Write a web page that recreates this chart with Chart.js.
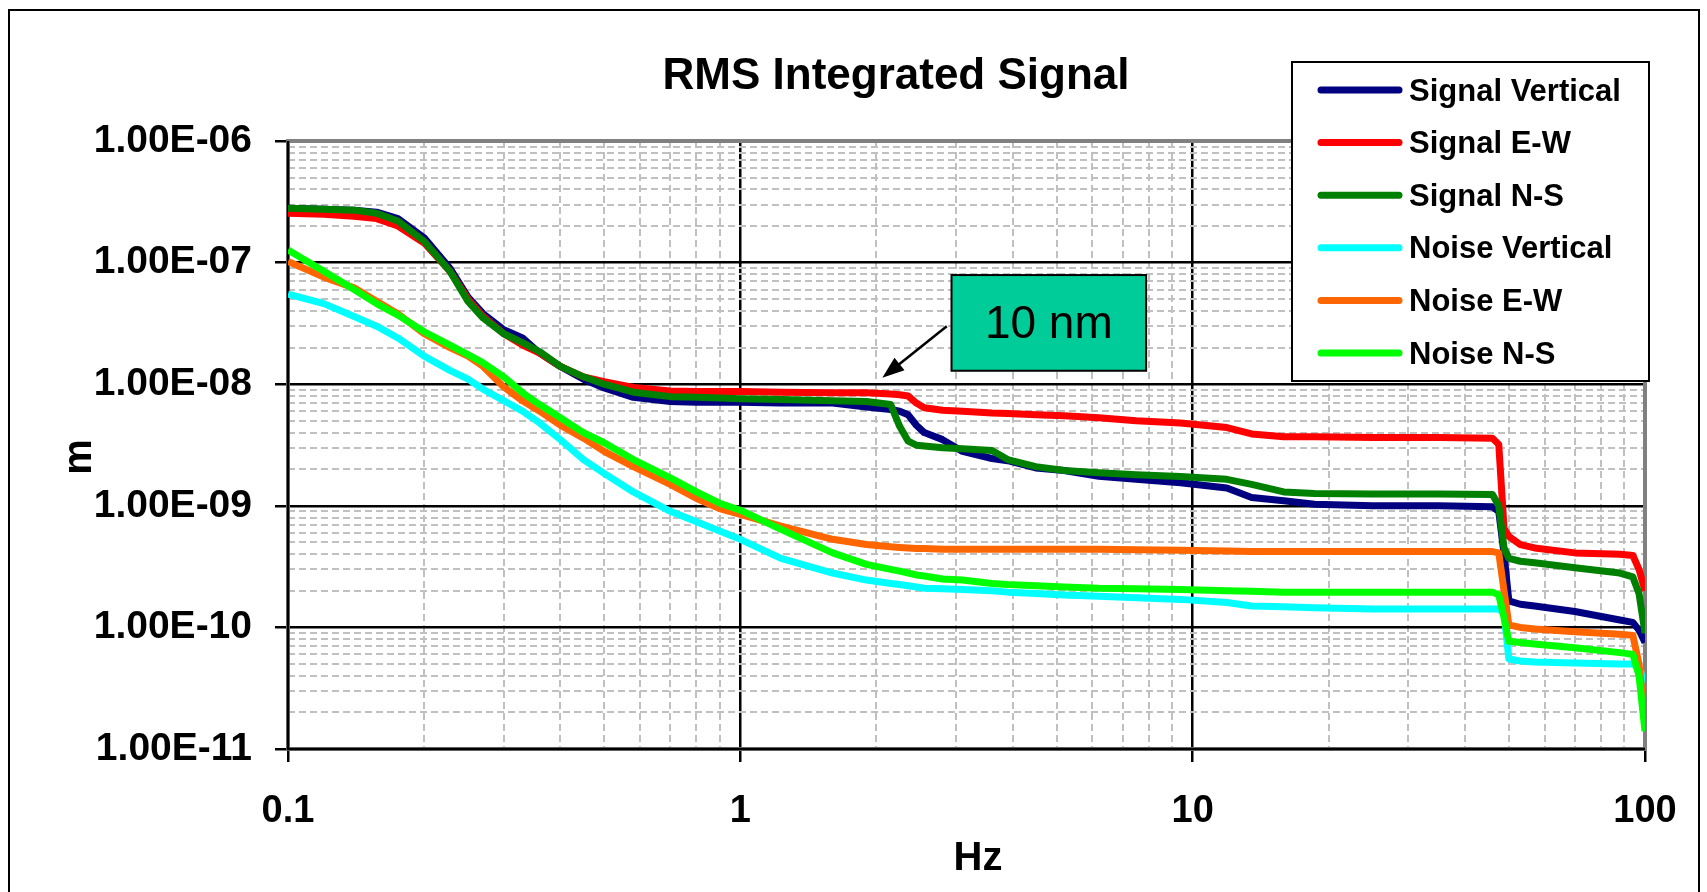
<!DOCTYPE html>
<html>
<head>
<meta charset="utf-8">
<title>RMS Integrated Signal</title>
<script src="https://cdn.jsdelivr.net/npm/chart.js@4.4.1/dist/chart.umd.min.js"></script>
<style>
  html, body { margin: 0; padding: 0; background: #fff; }
  canvas { display: block; }
</style>
</head>
<body>
<canvas id="chart" width="1707" height="892"></canvas>
<script>
// values: frequency in Hz, integrated RMS in m
const freqHz = [0.1, 0.12, 0.14, 0.157, 0.175, 0.2, 0.228, 0.25, 0.27, 0.3,
    0.33, 0.36, 0.4, 0.45, 0.5, 0.58, 0.7, 0.8, 0.9, 1,
    1.23, 1.6, 1.9, 2.15, 2.25, 2.35, 2.45, 2.55, 2.8, 3.1,
    3.6, 3.9, 4.5, 5.2, 6.2, 7.5, 9.4, 11.9, 13.5, 15.9,
    18.6, 25, 35, 46, 47.5, 48.8, 50, 53, 57, 70,
    88, 94, 97, 100];

const signalVertical = [2.8e-7, 2.75e-7, 2.7e-7, 2.6e-7, 2.3e-7, 1.6e-7, 9.0e-8, 5.2e-8, 3.8e-8, 2.8e-8,
    2.4e-8, 1.8e-8, 1.4e-8, 1.1e-8, 9.3e-9, 7.8e-9, 7.2e-9, 7.1e-9, 7.1e-9, 7.1e-9,
    7.0e-9, 7.0e-9, 6.5e-9, 6.2e-9, 6.0e-9, 5.6e-9, 4.6e-9, 4.0e-9, 3.5e-9, 2.8e-9,
    2.45e-9, 2.35e-9, 2.05e-9, 1.95e-9, 1.75e-9, 1.65e-9, 1.55e-9, 1.4e-9, 1.17e-9, 1.1e-9,
    1.03e-9, 1.0e-9, 1.0e-9, 9.8e-10, 9.0e-10, 4.0e-10, 1.65e-10, 1.55e-10, 1.5e-10, 1.35e-10,
    1.15e-10, 1.1e-10, 9.5e-11, 7.5e-11];

const signalEW = [2.55e-7, 2.5e-7, 2.4e-7, 2.3e-7, 2.0e-7, 1.45e-7, 8.5e-8, 5.0e-8, 3.6e-8, 2.6e-8,
    2.1e-8, 1.8e-8, 1.4e-8, 1.15e-8, 1.05e-8, 9.4e-9, 8.8e-9, 8.7e-9, 8.7e-9, 8.7e-9,
    8.6e-9, 8.5e-9, 8.5e-9, 8.3e-9, 8.2e-9, 8.0e-9, 7.0e-9, 6.4e-9, 6.1e-9, 6.0e-9,
    5.8e-9, 5.75e-9, 5.6e-9, 5.5e-9, 5.3e-9, 5.0e-9, 4.8e-9, 4.4e-9, 3.9e-9, 3.7e-9,
    3.7e-9, 3.65e-9, 3.65e-9, 3.6e-9, 3.2e-9, 6.5e-10, 5.6e-10, 4.8e-10, 4.5e-10, 4.1e-10,
    4.0e-10, 3.9e-10, 3.0e-10, 2.0e-10];

const signalNS = [2.8e-7, 2.75e-7, 2.7e-7, 2.55e-7, 2.2e-7, 1.5e-7, 8.5e-8, 4.8e-8, 3.5e-8, 2.6e-8,
    2.2e-8, 1.85e-8, 1.4e-8, 1.15e-8, 1.0e-8, 8.6e-9, 7.9e-9, 7.8e-9, 7.7e-9, 7.6e-9,
    7.5e-9, 7.3e-9, 7.2e-9, 6.8e-9, 4.5e-9, 3.4e-9, 3.15e-9, 3.1e-9, 3.0e-9, 2.95e-9,
    2.85e-9, 2.4e-9, 2.1e-9, 1.95e-9, 1.87e-9, 1.8e-9, 1.74e-9, 1.65e-9, 1.5e-9, 1.3e-9,
    1.26e-9, 1.25e-9, 1.25e-9, 1.24e-9, 1.0e-9, 4.5e-10, 3.7e-10, 3.5e-10, 3.4e-10, 3.1e-10,
    2.8e-10, 2.6e-10, 1.9e-10, 9.0e-11];

const noiseVertical = [5.5e-8, 4.6e-8, 3.6e-8, 3.0e-8, 2.4e-8, 1.7e-8, 1.3e-8, 1.1e-8, 9.1e-9, 7.3e-9,
    6.0e-9, 4.8e-9, 3.5e-9, 2.4e-9, 1.85e-9, 1.3e-9, 9.0e-10, 7.4e-10, 6.2e-10, 5.3e-10,
    3.7e-10, 2.8e-10, 2.45e-10, 2.3e-10, 2.25e-10, 2.2e-10, 2.15e-10, 2.1e-10, 2.08e-10, 2.05e-10,
    2.0e-10, 1.95e-10, 1.9e-10, 1.85e-10, 1.8e-10, 1.75e-10, 1.7e-10, 1.6e-10, 1.5e-10, 1.48e-10,
    1.45e-10, 1.42e-10, 1.42e-10, 1.42e-10, 1.42e-10, 1.3e-10, 5.5e-11, 5.3e-11, 5.2e-11, 5.1e-11,
    5.0e-11, 5.0e-11, 4.6e-11, 3.5e-11];

const noiseEW = [1.02e-7, 7.6e-8, 6.2e-8, 4.8e-8, 3.8e-8, 2.6e-8, 2.0e-8, 1.7e-8, 1.4e-8, 9.5e-9,
    7.3e-9, 6.0e-9, 4.6e-9, 3.6e-9, 2.8e-9, 2.1e-9, 1.5e-9, 1.15e-9, 9.5e-10, 8.5e-10,
    6.8e-10, 5.3e-10, 4.8e-10, 4.6e-10, 4.55e-10, 4.5e-10, 4.45e-10, 4.45e-10, 4.4e-10, 4.4e-10,
    4.4e-10, 4.4e-10, 4.4e-10, 4.4e-10, 4.4e-10, 4.35e-10, 4.3e-10, 4.25e-10, 4.2e-10, 4.2e-10,
    4.2e-10, 4.2e-10, 4.2e-10, 4.2e-10, 4.1e-10, 2.0e-10, 1.05e-10, 1.0e-10, 9.7e-11, 9.2e-11,
    8.8e-11, 8.6e-11, 5.0e-11, 1.6e-11];

const noiseNS = [1.27e-7, 8.5e-8, 6.0e-8, 4.6e-8, 3.7e-8, 2.7e-8, 2.1e-8, 1.75e-8, 1.5e-8, 1.15e-8,
    8.5e-9, 6.8e-9, 5.3e-9, 4.0e-9, 3.3e-9, 2.4e-9, 1.7e-9, 1.3e-9, 1.05e-9, 9.2e-10,
    6.4e-10, 4.1e-10, 3.3e-10, 3.0e-10, 2.9e-10, 2.8e-10, 2.7e-10, 2.65e-10, 2.5e-10, 2.45e-10,
    2.3e-10, 2.25e-10, 2.2e-10, 2.15e-10, 2.1e-10, 2.08e-10, 2.05e-10, 2.0e-10, 1.98e-10, 1.95e-10,
    1.95e-10, 1.95e-10, 1.95e-10, 1.95e-10, 1.85e-10, 1.2e-10, 7.7e-11, 7.5e-11, 7.3e-11, 6.8e-11,
    6.2e-11, 6.0e-11, 4.0e-11, 1.4e-11];

const seriesNames = ['Signal Vertical', 'Signal E-W', 'Signal N-S', 'Noise Vertical', 'Noise E-W', 'Noise N-S'];
const seriesValues = [signalVertical, signalEW, signalNS, noiseVertical, noiseEW, noiseNS];
const seriesColors = ['#000080', '#ff0000', '#008000', '#00ffff', '#ff6600', '#00ff00'];

const xDecades = [0.1, 1, 10, 100];
const xTickLabels = ['0.1', '1', '10', '100'];
const yDecades = [1e-11, 1e-10, 1e-9, 1e-8, 1e-7, 1e-6];
const yTickLabels = ['1.00E-11', '1.00E-10', '1.00E-09', '1.00E-08', '1.00E-07', '1.00E-06'];

const chartTitle = 'RMS Integrated Signal';
const xTitle = 'Hz';
const yTitle = 'm';
const noteText = '10 nm';
// callout box corners and arrow, in axis units
const noteBox = [[2.93, 7.9e-8], [7.89, 1.29e-8]];
const noteArrow = [[2.86, 3.0e-8], [2.06, 1.13e-8]];

const FONT = '"Liberation Sans", Arial, Helvetica, sans-serif';

function decadeIndex(decades, v) {
    return decades.findIndex(d => Math.abs(Math.log10(v) - Math.log10(d)) < 1e-6);
}

// 1..9 in every decade, like Excel's minor grid
function logTicks(decades) {
    const t = [];
    for (let i = 0; i < decades.length - 1; i++) {
        for (let m = 1; m < 10; m++) t.push({ value: m * decades[i] });
    }
    t.push({ value: decades[decades.length - 1] });
    return t;
}

function axisStyle(decades) {
    const major = c => c.tick && decadeIndex(decades, c.tick.value) >= 0;
    return {
        grid: {
            color: c => major(c) ? '#000' : '#c0c0c0',
            lineWidth: c => major(c) ? 2.5 : 2,
            tickLength: 13,
            tickWidth: 2.5,
            tickColor: c => major(c) ? '#000' : 'rgba(0,0,0,0)'
        },
        border: {
            display: false,
            dash: c => major(c) ? [] : [7, 4]
        }
    };
}

const decor = {
    id: 'decor',
    beforeDraw(chart) {
        const ctx = chart.ctx;
        ctx.save();
        ctx.fillStyle = '#fff';
        ctx.fillRect(0, 0, chart.width, chart.height);
        ctx.strokeStyle = '#000';
        ctx.lineWidth = 2;
        ctx.strokeRect(9, 10, 1690, 900);
        ctx.restore();
    },
    beforeDatasetsDraw(chart) {
        const { ctx, chartArea: a } = chart;
        ctx.save();
        ctx.strokeStyle = '#808080';
        ctx.lineWidth = 4;
        ctx.strokeRect(a.left, a.top, a.right - a.left, a.bottom - a.top);
        ctx.strokeStyle = '#000';
        ctx.lineWidth = 2.5;
        ctx.beginPath();
        ctx.moveTo(a.left, a.top);
        ctx.lineTo(a.left, a.bottom);
        ctx.lineTo(a.right, a.bottom);
        ctx.stroke();
        ctx.restore();
    },
    afterDraw(chart) {
        const { ctx, scales: { x, y } } = chart;
        ctx.save();
        ctx.fillStyle = '#000';
        ctx.textAlign = 'center';
        ctx.textBaseline = 'middle';

        ctx.font = 'bold 44px ' + FONT;
        ctx.fillText(chartTitle, 896, 77);

        ctx.font = 'bold 40px ' + FONT;
        ctx.fillText(xTitle, 978, 859);
        ctx.save();
        ctx.translate(80, 457);
        ctx.rotate(-Math.PI / 2);
        ctx.fillText(yTitle, 0, 0);
        ctx.restore();

        // callout
        const bx1 = x.getPixelForValue(noteBox[0][0]), by1 = y.getPixelForValue(noteBox[0][1]);
        const bx2 = x.getPixelForValue(noteBox[1][0]), by2 = y.getPixelForValue(noteBox[1][1]);
        ctx.fillStyle = '#00cc99';
        ctx.fillRect(bx1, by1, bx2 - bx1, by2 - by1);
        ctx.strokeStyle = '#000';
        ctx.lineWidth = 2;
        ctx.strokeRect(bx1, by1, bx2 - bx1, by2 - by1);
        ctx.fillStyle = '#000';
        ctx.font = '46px ' + FONT;
        ctx.fillText(noteText, (bx1 + bx2) / 2, (by1 + by2) / 2 + 2);

        const sx = x.getPixelForValue(noteArrow[0][0]), sy = y.getPixelForValue(noteArrow[0][1]);
        const tx = x.getPixelForValue(noteArrow[1][0]), ty = y.getPixelForValue(noteArrow[1][1]);
        const ang = Math.atan2(ty - sy, tx - sx);
        const ux = Math.cos(ang), uy = Math.sin(ang);
        ctx.lineWidth = 2.5;
        ctx.beginPath();
        ctx.moveTo(sx, sy);
        ctx.lineTo(tx - ux * 16, ty - uy * 16);
        ctx.stroke();
        ctx.beginPath();
        ctx.moveTo(tx, ty);
        ctx.lineTo(tx - ux * 22 - uy * 8, ty - uy * 22 + ux * 8);
        ctx.lineTo(tx - ux * 22 + uy * 8, ty - uy * 22 - ux * 8);
        ctx.closePath();
        ctx.fill();

        // legend box
        const lx = 1292, ly = 62, lw = 357, lh = 319;
        ctx.fillStyle = '#fff';
        ctx.fillRect(lx, ly, lw, lh);
        ctx.strokeStyle = '#000';
        ctx.lineWidth = 2;
        ctx.strokeRect(lx, ly, lw, lh);
        ctx.font = 'bold 31px ' + FONT;
        ctx.textAlign = 'left';
        chart.data.datasets.forEach((ds, i) => {
            const yy = 90 + i * 52.6;
            ctx.strokeStyle = ds.borderColor;
            ctx.lineWidth = 7;
            ctx.lineCap = 'round';
            ctx.beginPath();
            ctx.moveTo(1321, yy);
            ctx.lineTo(1399, yy);
            ctx.stroke();
            ctx.fillStyle = '#000';
            ctx.fillText(ds.label, 1409, yy + 2);
        });
        ctx.restore();
    }
};

const xAxis = axisStyle(xDecades);
const yAxis = axisStyle(yDecades);

new Chart(document.getElementById('chart'), {
    type: 'line',
    data: {
        datasets: seriesNames.map((name, i) => ({
            label: name,
            data: freqHz.map((f, k) => ({ x: f, y: seriesValues[i][k] })),
            borderColor: seriesColors[i],
            backgroundColor: seriesColors[i],
            borderWidth: 7,
            borderJoinStyle: 'round',
            pointRadius: 0,
            tension: 0,
            fill: false,
            order: seriesNames.length - i   // later series on top, as in the original
        }))
    },
    options: {
        responsive: false,
        animation: false,
        events: [],
        layout: { padding: { top: 141, right: 62, bottom: 0, left: 0 } },
        plugins: {
            legend: { display: false },
            tooltip: { enabled: false },
            title: { display: false }
        },
        scales: {
            x: {
                type: 'logarithmic',
                position: 'bottom',
                min: 0.1,
                max: 100,
                afterBuildTicks: s => { s.ticks = logTicks(xDecades); },
                afterFit: s => { s.height = 143; },
                ticks: {
                    autoSkip: false,
                    maxRotation: 0,
                    minRotation: 0,
                    padding: 27,
                    color: '#000',
                    font: { family: FONT, size: 38, weight: 'bold' },
                    callback: v => {
                        const i = decadeIndex(xDecades, v);
                        return i < 0 ? '' : xTickLabels[i];
                    }
                },
                grid: xAxis.grid,
                border: xAxis.border
            },
            y: {
                type: 'logarithmic',
                position: 'left',
                min: 1e-11,
                max: 1e-6,
                afterBuildTicks: s => { s.ticks = logTicks(yDecades); },
                afterFit: s => { s.width = 288; },
                ticks: {
                    autoSkip: false,
                    padding: 23,
                    color: '#000',
                    font: { family: FONT, size: 39, weight: 'bold' },
                    callback: v => {
                        const i = decadeIndex(yDecades, v);
                        return i < 0 ? '' : yTickLabels[i];
                    }
                },
                grid: yAxis.grid,
                border: yAxis.border
            }
        }
    },
    plugins: [decor]
});
</script>
</body>
</html>
